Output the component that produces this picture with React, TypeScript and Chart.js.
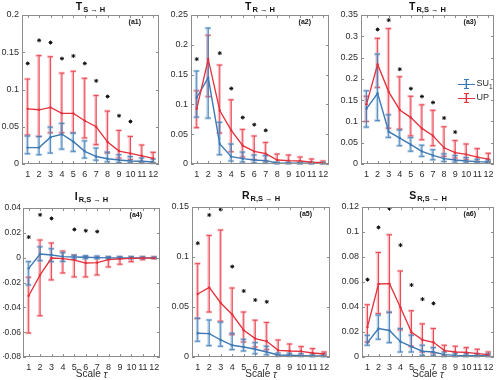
import React, { useEffect, useRef } from "react";
import { Chart, registerables } from "chart.js";
Chart.register(...registerables);

const W = 499;
const H = 380;
const FONT = '"Liberation Sans", Arial, Helvetica, sans-serif';

const tau = [1, 2, 3, 4, 5, 6, 7, 8, 9, 10, 11, 12];
const seriesNames = ["SU", "UP"];

// ---------- (a1) T S->H ----------
const a1Su1 = [0.022, 0.022, 0.036, 0.040, 0.030, 0.017, 0.010, 0.007, 0.0054, 0.004, 0.0036, 0.0027];
const a1Su1Hi = [0.0375, 0.037, 0.0495, 0.0545, 0.0415, 0.031, 0.0214, 0.016, 0.0125, 0.010, 0.008, 0.0067];
const a1Su1Lo = [0.0138, 0.0125, 0.0147, 0.020, 0.017, 0.008, 0.005, 0.003, 0.002, 0.0018, 0.0013, 0.0013];
const a1Up = [0.074, 0.0728, 0.076, 0.068, 0.068, 0.058, 0.050, 0.0295, 0.0174, 0.0143, 0.011, 0.0076];
const a1UpHi = [0.114, 0.1455, 0.144, 0.122, 0.1245, 0.115, 0.092, 0.071, 0.045, 0.037, 0.0255, 0.0156];
const a1UpLo = [0.039, 0.037, 0.042, 0.042, 0.042, 0.035, 0.026, 0.0147, 0.008, 0.006, 0.003, 0.0013];
const a1Stars = [0.135, 0.166, 0.163, 0.1415, 0.145, 0.135, 0.1116, 0.0906, 0.0647, 0.057, null, null];
const a1Ticks = [0, 0.05, 0.1, 0.15, 0.2];
const a1Labels = ["0", "0.05", "0.1", "0.15", "0.2"];

// ---------- (a2) T R->H ----------
const a2Su1 = [0.1116, 0.145, 0.0335, 0.0123, 0.009, 0.0067, 0.0056, 0.0017, 0.0015, 0.0014, 0.0012, 0.0011];
const a2Su1Hi = [0.156, 0.228, 0.070, 0.0335, 0.020, 0.015, 0.014, 0.003, 0.003, 0.003, 0.0028, 0.0025];
const a2Su1Lo = [0.0787, 0.077, 0.0156, 0.005, 0.0033, 0.0022, 0.0017, 0.0005, 0.0005, 0.0005, 0.0004, 0.0004];
const a2Up = [0.0926, 0.176, 0.0898, 0.0564, 0.0307, 0.0212, 0.0173, 0.0067, 0.0056, 0.005, 0.0033, 0.0022];
const a2UpHi = [0.123, 0.216, 0.166, 0.1077, 0.058, 0.047, 0.036, 0.0167, 0.015, 0.0117, 0.0084, 0.005];
const a2UpLo = [0.061, 0.113, 0.052, 0.0206, 0.0117, 0.0073, 0.005, 0.0017, 0.0017, 0.0011, 0.0011, 0.0011];
const a2Stars = [0.176, null, 0.186, 0.1267, 0.078, 0.066, 0.0564, null, null, null, null, null];
const a2Ticks = [0, 0.05, 0.1, 0.15, 0.2, 0.25];
const a2Labels = ["0", "0.05", "0.1", "0.15", "0.2", "0.25"];

// ---------- (a3) T R,S->H ----------
const a3Su1 = [0.13, 0.166, 0.0758, 0.061, 0.0453, 0.0297, 0.0203, 0.0125, 0.0094, 0.007, 0.0055, 0.0047];
const a3Su1Hi = [0.172, 0.258, 0.1156, 0.080, 0.062, 0.044, 0.0336, 0.024, 0.020, 0.015, 0.011, 0.0094];
const a3Su1Lo = [0.0867, 0.102, 0.0625, 0.043, 0.030, 0.018, 0.010, 0.006, 0.0047, 0.003, 0.0023, 0.0023];
const a3Up = [0.1406, 0.234, 0.1695, 0.127, 0.109, 0.0836, 0.0664, 0.038, 0.0266, 0.0227, 0.0164, 0.0117];
const a3UpHi = [0.159, 0.295, 0.318, 0.205, 0.159, 0.139, 0.126, 0.0875, 0.055, 0.047, 0.036, 0.025];
const a3UpLo = [0.100, 0.180, 0.084, 0.082, 0.066, 0.057, 0.043, 0.018, 0.014, 0.010, 0.006, 0.005];
const a3Stars = [null, 0.316, 0.338, 0.2227, 0.177, 0.1586, 0.1445, 0.108, 0.075, null, null, null];
const a3Ticks = [0, 0.05, 0.1, 0.15, 0.2, 0.25, 0.3, 0.35];
const a3Labels = ["0", "0.05", "0.1", "0.15", "0.2", "0.25", "0.3", "0.35"];

// ---------- (a4) I R,S->H ----------
const a4Su1 = [-0.0086, 0.0029, 0.0021, 0.0008, 0.0005, 0.0003, 0, -0.0002, -0.0003, -0.0003, -0.0002, -0.0002];
const a4Su1Hi = [-0.0032, 0.0088, 0.0072, 0.004, 0.002, 0.0016, 0.0013, 0.0008, 0.0008, 0.0008, 0.0006, 0.0005];
const a4Su1Lo = [-0.022, -0.0024, -0.0032, -0.003, -0.001, -0.0008, -0.0008, -0.0008, -0.0008, -0.0008, -0.0006, -0.0005];
const a4Up = [-0.0307, -0.0139, -0.0003, -0.0008, -0.0019, -0.0043, -0.004, -0.0016, -0.001, -0.0005, -0.0004, -0.0004];
const a4UpHi = [-0.0158, 0.0142, 0.0118, 0.0053, 0.0021, 0.0008, 0.0005, 0.0005, 0.0005, 0.0005, 0.0006, 0.0006];
const a4UpLo = [-0.0607, -0.0468, -0.0179, -0.0123, -0.0155, -0.0155, -0.0139, -0.0075, -0.0053, -0.0032, -0.0016, -0.0008];
const a4Stars = [0.0166, 0.0345, 0.0316, null, 0.0227, 0.0217, 0.021, null, null, null, null, null];
const a4Ticks = [-0.08, -0.06, -0.04, -0.02, 0, 0.02, 0.04];
const a4Labels = ["-0.08", "-0.06", "-0.04", "-0.02", "0", "0.02", "0.04"];

// ---------- (a5) R R,S->H ----------
const a5Su1 = [0.0238, 0.0234, 0.017, 0.0117, 0.010, 0.0077, 0.005, 0.002, 0.0017, 0.0013, 0.001, 0.001];
const a5Su1Hi = [0.0388, 0.037, 0.0348, 0.0238, 0.0177, 0.0144, 0.0107, 0.004, 0.0037, 0.0033, 0.003, 0.003];
const a5Su1Lo = [0.0157, 0.0114, 0.0107, 0.0074, 0.006, 0.0033, 0.0023, 0.0007, 0.0007, 0.0005, 0.0004, 0.0004];
const a5Up = [0.063, 0.0696, 0.054, 0.0425, 0.0268, 0.0184, 0.0157, 0.0067, 0.006, 0.0057, 0.004, 0.003];
const a5UpHi = [0.0934, 0.1215, 0.127, 0.069, 0.045, 0.0368, 0.0345, 0.017, 0.013, 0.0104, 0.0084, 0.005];
const a5UpLo = [0.0385, 0.045, 0.0358, 0.0224, 0.015, 0.010, 0.0074, 0.0017, 0.0017, 0.0017, 0.0013, 0.0013];
const a5Stars = [0.1138, 0.142, 0.1476, 0.0904, 0.066, 0.057, 0.0552, null, null, null, null, null];
const a5Ticks = [0, 0.05, 0.1, 0.15];
const a5Labels = ["0", "0.05", "0.1", "0.15"];

// ---------- (a6) S R,S->H ----------
const a6Su1 = [0.0115, 0.0228, 0.0212, 0.0123, 0.0083, 0.0046, 0.004, 0.0019, 0.0013, 0.0011, 0.0011, 0.0011];
const a6Su1Hi = [0.0174, 0.0335, 0.0359, 0.0228, 0.0174, 0.0094, 0.0075, 0.004, 0.003, 0.0027, 0.0025, 0.0025];
const a6Su1Lo = [0.0094, 0.0142, 0.0115, 0.004, 0.004, 0.0013, 0.0013, 0.0005, 0.0005, 0.0004, 0.0004, 0.0004];
const a6Up = [0.0241, 0.0584, 0.0587, 0.0396, 0.0198, 0.0137, 0.0118, 0.0051, 0.004, 0.0037, 0.0027, 0.0019];
const a6UpHi = [0.0418, 0.0836, 0.0978, 0.0688, 0.037, 0.0265, 0.0228, 0.0094, 0.0086, 0.0075, 0.0062, 0.004];
const a6UpLo = [0.012, 0.0348, 0.0356, 0.0217, 0.0086, 0.004, 0.0032, 0.0011, 0.0008, 0.0008, 0.0008, 0.0008];
const a6Stars = [0.0619, 0.1037, 0.1187, 0.0895, 0.0576, 0.0463, 0.0429, null, null, null, null, null];
const a6Ticks = [0, 0.02, 0.04, 0.06, 0.08, 0.1, 0.12];
const a6Labels = ["0", "0.02", "0.04", "0.06", "0.08", "0.1", "0.12"];

const BLUE = "#3d79b4";
const BLUE_LIGHT = "rgba(120,168,212,0.55)";
const RED = "#e4313b";
const RED_LIGHT = "rgba(244,130,142,0.55)";
const AXIS = "#8c8c8c";
const TEXT = "#2b2b2b";

type PanelSpec = {
  main: string;
  sub: string;
  tag: string;
  yTicks: number[];
  yLabels: string[];
  su1: number[];
  su1Lo: number[];
  su1Hi: number[];
  up: number[];
  upLo: number[];
  upHi: number[];
  stars: (number | null)[];
  rect: [number, number, number, number];
  titleGap: number;
  labelPad: number;
  labelSize: number;
  xTitle: boolean;
  legend: boolean;
};

const panels: PanelSpec[] = [
  { main: "T", sub: "S \u2192 H", tag: "(a1)", yTicks: a1Ticks, yLabels: a1Labels, su1: a1Su1, su1Lo: a1Su1Lo, su1Hi: a1Su1Hi, up: a1Up, upLo: a1UpLo, upHi: a1UpHi, stars: a1Stars, rect: [22, 15, 159, 164], titleGap: 5, labelPad: 3, labelSize: 9, xTitle: false, legend: false },
  { main: "T", sub: "R \u2192 H", tag: "(a2)", yTicks: a2Ticks, yLabels: a2Labels, su1: a2Su1, su1Lo: a2Su1Lo, su1Hi: a2Su1Hi, up: a2Up, upLo: a2UpLo, upHi: a2UpHi, stars: a2Stars, rect: [191, 15, 329, 164], titleGap: 5, labelPad: 3, labelSize: 9, xTitle: false, legend: false },
  { main: "T", sub: "R,S \u2192 H", tag: "(a3)", yTicks: a3Ticks, yLabels: a3Labels, su1: a3Su1, su1Lo: a3Su1Lo, su1Hi: a3Su1Hi, up: a3Up, upLo: a3UpLo, upHi: a3UpHi, stars: a3Stars, rect: [361, 15, 497, 164], titleGap: 5, labelPad: 3, labelSize: 9, xTitle: false, legend: true },
  { main: "I", sub: "R,S \u2192 H", tag: "(a4)", yTicks: a4Ticks, yLabels: a4Labels, su1: a4Su1, su1Lo: a4Su1Lo, su1Hi: a4Su1Hi, up: a4Up, upLo: a4UpLo, upHi: a4UpHi, stars: a4Stars, rect: [23, 208, 160, 357], titleGap: 8, labelPad: 2, labelSize: 8.5, xTitle: true, legend: false },
  { main: "R", sub: "R,S \u2192 H", tag: "(a5)", yTicks: a5Ticks, yLabels: a5Labels, su1: a5Su1, su1Lo: a5Su1Lo, su1Hi: a5Su1Hi, up: a5Up, upLo: a5UpLo, upHi: a5UpHi, stars: a5Stars, rect: [192, 207, 330, 357], titleGap: 8, labelPad: 3, labelSize: 9, xTitle: true, legend: false },
  { main: "S", sub: "R,S \u2192 H", tag: "(a6)", yTicks: a6Ticks, yLabels: a6Labels, su1: a6Su1, su1Lo: a6Su1Lo, su1Hi: a6Su1Hi, up: a6Up, upLo: a6UpLo, upHi: a6UpHi, stars: a6Stars, rect: [362, 207, 497, 357], titleGap: 8, labelPad: 3, labelSize: 9, xTitle: true, legend: false },
];

const YW = 20;
const XH = 20;

function drawErrBars(ctx: CanvasRenderingContext2D, xs: any, ys: any, lo: number[], hi: number[], dark: string, light: string) {
  tau.forEach((t, i) => {
    const x = xs.getPixelForValue(t);
    const y1 = ys.getPixelForValue(hi[i]);
    const y2 = ys.getPixelForValue(lo[i]);
    ctx.strokeStyle = light;
    ctx.lineWidth = 2.6;
    ctx.beginPath();
    ctx.moveTo(x - 0.6, y1);
    ctx.lineTo(x - 0.6, y2);
    ctx.moveTo(x - 3.5, y1);
    ctx.lineTo(x + 2.5, y1);
    ctx.moveTo(x - 3.5, y2);
    ctx.lineTo(x + 2.5, y2);
    ctx.stroke();
    ctx.strokeStyle = dark;
    ctx.lineWidth = 0.8;
    ctx.beginPath();
    ctx.moveTo(x, y1);
    ctx.lineTo(x, y2);
    ctx.moveTo(x - 2.5, y1);
    ctx.lineTo(x + 2.5, y1);
    ctx.moveTo(x - 2.5, y2);
    ctx.lineTo(x + 2.5, y2);
    ctx.stroke();
  });
}

function makeConfig(p: PanelSpec): any {
  const [l, t, r, b] = p.rect;
  const plugin = {
    id: "matlabDecor",
    beforeDatasetsDraw(chart: any) {
      const ctx = chart.ctx as CanvasRenderingContext2D;
      const xs = chart.scales.x;
      const ys = chart.scales.y;
      ctx.save();
      drawErrBars(ctx, xs, ys, p.upLo, p.upHi, RED, RED_LIGHT);
      drawErrBars(ctx, xs, ys, p.su1Lo, p.su1Hi, BLUE, BLUE_LIGHT);
      ctx.restore();
    },
    afterDraw(chart: any) {
      const ctx = chart.ctx as CanvasRenderingContext2D;
      const xs = chart.scales.x;
      const ys = chart.scales.y;
      const a = chart.chartArea;
      ctx.save();
      ctx.strokeStyle = AXIS;
      ctx.lineWidth = 1;
      ctx.strokeRect(Math.round(a.left) + 0.5, Math.round(a.top) + 0.5, Math.round(a.right - a.left) - 1, Math.round(a.bottom - a.top) - 1);
      ctx.beginPath();
      tau.forEach((v) => {
        const x = Math.round(xs.getPixelForValue(v)) + 0.5;
        ctx.moveTo(x, a.bottom);
        ctx.lineTo(x, a.bottom - 3);
        ctx.moveTo(x, a.top);
        ctx.lineTo(x, a.top + 3);
      });
      p.yTicks.forEach((v) => {
        const y = Math.round(ys.getPixelForValue(v)) + 0.5;
        ctx.moveTo(a.left, y);
        ctx.lineTo(a.left + 3, y);
        ctx.moveTo(a.right, y);
        ctx.lineTo(a.right - 3, y);
      });
      ctx.stroke();
      // title with subscript
      ctx.fillStyle = "#111";
      ctx.textBaseline = "alphabetic";
      ctx.textAlign = "left";
      const mainFont = `bold 10.5px ${FONT}`;
      const subFont = `bold 7.5px ${FONT}`;
      ctx.font = mainFont;
      const wm = ctx.measureText(p.main).width;
      ctx.font = subFont;
      const ws = ctx.measureText(p.sub).width;
      const cx = (a.left + a.right) / 2;
      const x0 = cx - (wm + ws + 1) / 2;
      const base = a.top - p.titleGap;
      ctx.font = mainFont;
      ctx.fillText(p.main, x0, base);
      ctx.font = subFont;
      ctx.fillText(p.sub, x0 + wm + 1, base + 2);
      // tag
      ctx.font = `bold 7px ${FONT}`;
      ctx.textAlign = "right";
      ctx.textBaseline = "middle";
      ctx.fillText(p.tag, a.right - 18, a.top + 7.5);
      // x title
      if (p.xTitle) {
        ctx.fillStyle = TEXT;
        ctx.textBaseline = "middle";
        ctx.textAlign = "left";
        const f1 = `10px ${FONT}`;
        const f2 = `italic 10px ${FONT}`;
        ctx.font = f1;
        const w1 = ctx.measureText("Scale ").width;
        ctx.font = f2;
        const w2 = ctx.measureText("\u03c4").width;
        const sx = cx - (w1 + w2) / 2;
        ctx.font = f1;
        ctx.fillText("Scale ", sx, 374);
        ctx.font = f2;
        ctx.fillText("\u03c4", sx + w1, 375);
      }
      // legend
      if (p.legend) {
        const rows = [
          { y: 84, dark: BLUE, light: BLUE_LIGHT, name: seriesNames[0], sub: "1" },
          { y: 98, dark: RED, light: RED_LIGHT, name: seriesNames[1], sub: "" },
        ];
        rows.forEach((row) => {
          const lx1 = 458;
          const lx2 = 475;
          const mx = (lx1 + lx2) / 2;
          ctx.strokeStyle = row.light;
          ctx.lineWidth = 2.4;
          ctx.beginPath();
          ctx.moveTo(mx - 0.5, row.y - 4.5);
          ctx.lineTo(mx - 0.5, row.y + 4.5);
          ctx.stroke();
          ctx.strokeStyle = row.dark;
          ctx.lineWidth = 1;
          ctx.beginPath();
          ctx.moveTo(lx1, row.y + 0.5);
          ctx.lineTo(lx2, row.y + 0.5);
          ctx.moveTo(mx, row.y - 4.5);
          ctx.lineTo(mx, row.y + 4.5);
          ctx.moveTo(mx - 2.5, row.y - 4.5);
          ctx.lineTo(mx + 2.5, row.y - 4.5);
          ctx.moveTo(mx - 2.5, row.y + 4.5);
          ctx.lineTo(mx + 2.5, row.y + 4.5);
          ctx.stroke();
          ctx.fillStyle = TEXT;
          ctx.textAlign = "left";
          ctx.textBaseline = "middle";
          ctx.font = `9px ${FONT}`;
          ctx.fillText(row.name, 476.5, row.y);
          if (row.sub) {
            const wn = ctx.measureText(row.name).width;
            ctx.font = `6.5px ${FONT}`;
            ctx.fillText(row.sub, 476.5 + wn, row.y + 3.5);
          }
        });
      }
      ctx.restore();
    },
  };

  const tickFont = { family: FONT, size: 9 };
  return {
    type: "line",
    data: {
      datasets: [
        {
          label: "UP",
          data: tau.map((x, i) => ({ x, y: p.up[i] })),
          borderColor: RED,
          backgroundColor: RED,
          borderWidth: 1.3,
          pointRadius: 1.2,
          pointBorderWidth: 0,
          tension: 0,
        },
        {
          label: "SU1",
          data: tau.map((x, i) => ({ x, y: p.su1[i] })),
          borderColor: BLUE,
          backgroundColor: BLUE,
          borderWidth: 1.4,
          pointRadius: 1.2,
          pointBorderWidth: 0,
          tension: 0,
        },
        {
          label: "sig",
          data: tau.map((x, i) => ({ x, y: p.stars[i] })).filter((d) => d.y !== null),
          showLine: false,
          pointStyle: "star",
          pointRadius: 2,
          borderColor: "#111",
          backgroundColor: "#111",
          pointBorderWidth: 1,
        },
      ],
    },
    options: {
      responsive: false,
      animation: false,
      devicePixelRatio: 1,
      layout: { padding: { left: l - YW, top: t, right: W - r, bottom: H - b - XH } },
      plugins: { legend: { display: false }, tooltip: { enabled: false }, title: { display: false } },
      scales: {
        x: {
          type: "linear",
          min: 0.5,
          max: 12.5,
          position: "bottom",
          afterBuildTicks: (s: any) => {
            s.ticks = tau.map((v) => ({ value: v }));
          },
          afterFit: (s: any) => {
            s.height = XH;
          },
          ticks: { font: tickFont, color: TEXT, padding: 5, autoSkip: false, maxRotation: 0, minRotation: 0, callback: (v: any) => String(v) },
          grid: { display: false, drawTicks: false },
          border: { display: false },
        },
        y: {
          type: "linear",
          min: p.yTicks[0],
          max: p.yTicks[p.yTicks.length - 1],
          afterBuildTicks: (s: any) => {
            s.ticks = p.yTicks.map((v) => ({ value: v }));
          },
          afterFit: (s: any) => {
            s.width = YW;
          },
          ticks: { font: { family: FONT, size: p.labelSize }, color: TEXT, padding: p.labelPad, autoSkip: false, callback: (_v: any, i: number) => p.yLabels[i] },
          grid: { display: false, drawTicks: false },
          border: { display: false },
        },
      },
    },
    plugins: [plugin],
  };
}

function PanelChart({ p }: { p: PanelSpec }) {
  const ref = useRef<HTMLCanvasElement | null>(null);
  useEffect(() => {
    if (!ref.current) return;
    const chart = new Chart(ref.current, makeConfig(p));
    return () => chart.destroy();
  }, [p]);
  return <canvas ref={ref} width={W} height={H} style={{ position: "absolute", left: 0, top: 0, width: W, height: H }} />;
}

export default function App() {
  return (
    <div style={{ position: "absolute", left: 0, top: 0, width: W, height: H, background: "#fff", overflow: "hidden" }}>
      {panels.map((p, i) => (
        <PanelChart key={i} p={p} />
      ))}
    </div>
  );
}
